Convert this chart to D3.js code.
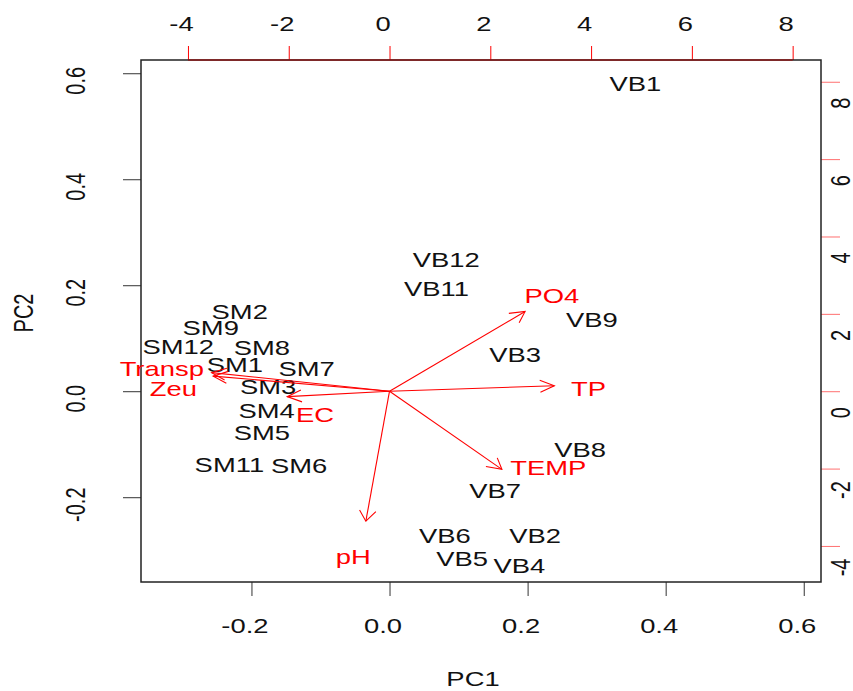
<!DOCTYPE html>
<html>
<head>
<meta charset="utf-8">
<script src="https://cdn.jsdelivr.net/npm/d3@7"></script>
<style>
  body { margin: 0; background: #fff; }
  text { font-family: "Liberation Sans", Arial, sans-serif; font-size: 20px; }
</style>
</head>
<body>
<svg id="biplot" width="853" height="691"></svg>
<script>
// site scores (PC1, PC2)
const siteNames = ["VB1", "VB12", "VB11", "VB9", "VB3", "VB8", "VB7", "VB6", "VB2", "VB5", "VB4",
  "SM2", "SM9", "SM12", "SM8", "SM1", "SM7", "SM3", "SM4", "SM5", "SM11", "SM6"];
const pc1Scores = [0.356, 0.082, 0.068, 0.293, 0.182, 0.276, 0.153, 0.080, 0.211, 0.105, 0.188,
  -0.217, -0.259, -0.306, -0.185, -0.224, -0.120, -0.176, -0.178, -0.185, -0.232, -0.131];
const pc2Scores = [0.580, 0.248, 0.193, 0.134, 0.068, -0.110, -0.188, -0.273, -0.273, -0.317, -0.330,
  0.149, 0.120, 0.084, 0.082, 0.049, 0.043, 0.008, -0.037, -0.079, -0.138, -0.141];

// variable loadings (arrow tips) and where their labels sit
const varNames = ["PO4", "TP", "TEMP", "pH", "EC", "Transp", "Zeu"];
const load1 = [2.69, 3.27, 2.23, -0.47, -2.03, -3.53, -3.50];
const load2 = [2.06, 0.14, -2.02, -3.36, -0.14, 0.48, 0.39];
const labelAt1 = [3.22, 3.95, 3.15, -0.72, -1.48, -4.52, -4.29];
const labelAt2 = [2.47, 0.06, -1.99, -4.28, -0.62, 0.57, 0.06];

const pcTicks = [-0.2, 0.0, 0.2, 0.4, 0.6];
const loadTicks = [-4, -2, 0, 2, 4, 6, 8];

// the picture is stretched sideways, so text is too
const SX = 1.37;
const lim = [-0.36, 0.625];
const ratio = 13.7;

const svg = d3.select("#biplot");

const x = d3.scaleLinear().domain(lim).range([141, 821]);
const y = d3.scaleLinear().domain(lim).range([582, 60]);
const x2 = d3.scaleLinear().domain(lim.map(d => d * ratio)).range([141, 821]);
const y2 = d3.scaleLinear().domain(lim.map(d => d * ratio)).range([582, 60]);

const flat = (tx, ty) => `translate(${tx},${ty}) scale(${SX},1)`;
const upright = (tx, ty) => `translate(${tx},${ty}) scale(${SX},1) rotate(-90)`;

// bottom axis
const axBottom = svg.append("g")
  .attr("transform", "translate(0,582)")
  .call(d3.axisBottom(x).tickValues(pcTicks).tickSize(14).tickSizeOuter(0).tickFormat(d => d.toFixed(1)));
axBottom.select(".domain").remove();
axBottom.selectAll("line").attr("stroke", "#333");
axBottom.selectAll("text").attr("y", null).attr("dy", null)
  .attr("fill", "#111").attr("transform", flat(-7, 51));

// left axis
const axLeft = svg.append("g")
  .attr("transform", "translate(141,0)")
  .call(d3.axisLeft(y).tickValues(pcTicks).tickSize(18).tickSizeOuter(0).tickFormat(d => d.toFixed(1)));
axLeft.select(".domain").remove();
axLeft.selectAll("line").attr("stroke", "#333");
axLeft.selectAll("text").attr("x", null).attr("dy", null)
  .attr("text-anchor", "middle").attr("fill", "#111")
  .attr("transform", upright(-56.5, 7));

// top axis (loadings)
const axTop = svg.append("g")
  .attr("transform", "translate(0,60)")
  .call(d3.axisTop(x2).tickValues(loadTicks).tickSize(14).tickSizeOuter(0).tickFormat(d => String(d)));
axTop.select(".domain").remove();
axTop.selectAll("line").attr("stroke", "#ff0000");
axTop.selectAll("text").attr("y", null).attr("dy", null)
  .attr("fill", "#111").attr("transform", flat(-7, -29.3));

// right axis (loadings)
const axRight = svg.append("g")
  .attr("transform", "translate(821,0)")
  .call(d3.axisRight(y2).tickValues(loadTicks).tickSize(19).tickSizeOuter(0).tickFormat(d => String(d)));
axRight.select(".domain").remove();
axRight.selectAll("line").attr("stroke", "#ff7070");
axRight.selectAll("text").attr("x", null).attr("dy", null)
  .attr("text-anchor", "middle").attr("fill", "#111")
  .attr("transform", upright(28.8, 21));

// frame
svg.append("rect")
  .attr("x", 141).attr("y", 60).attr("width", 680).attr("height", 522)
  .attr("fill", "none").attr("stroke", "#222").attr("stroke-width", 1.5);
svg.append("line")
  .attr("x1", x2(loadTicks[0])).attr("x2", x2(loadTicks[loadTicks.length - 1]))
  .attr("y1", 60).attr("y2", 60)
  .attr("stroke", "#8b1a1a").attr("stroke-width", 1.5);

// axis titles
svg.append("text").attr("text-anchor", "middle").attr("fill", "#111")
  .attr("transform", flat(473, 686)).text("PC1");
svg.append("text").attr("text-anchor", "middle").attr("fill", "#111")
  .attr("transform", upright(33, 313)).text("PC2");

// site labels
svg.append("g").selectAll("text")
  .data(siteNames)
  .join("text")
  .attr("text-anchor", "middle")
  .attr("fill", "#111")
  .attr("transform", (d, i) => flat(x(pc1Scores[i]), y(pc2Scores[i]) + 7.2))
  .text(d => d);

// arrows
const ox = x2(0), oy = y2(0);
const head = 12;
const arrows = svg.append("g").attr("stroke", "#ff0000").attr("stroke-width", 1.1).attr("fill", "none");
varNames.forEach((v, i) => {
  const tx = x2(load1[i]), ty = y2(load2[i]);
  arrows.append("line").attr("x1", ox).attr("y1", oy).attr("x2", tx).attr("y2", ty);
  const a = Math.atan2(ty - oy, (tx - ox) / SX);
  const pts = [a - Math.PI / 6, a + Math.PI / 6].map(b =>
    [tx - head * Math.cos(b) * SX, ty - head * Math.sin(b)]);
  arrows.append("path")
    .attr("d", `M${pts[0][0]},${pts[0][1]}L${tx},${ty}L${pts[1][0]},${pts[1][1]}`);
});

svg.append("g").selectAll("text")
  .data(varNames)
  .join("text")
  .attr("text-anchor", "middle")
  .attr("fill", "#ff0000")
  .attr("transform", (d, i) => flat(x2(labelAt1[i]), y2(labelAt2[i]) + 7.2))
  .text(d => d);
</script>
</body>
</html>
